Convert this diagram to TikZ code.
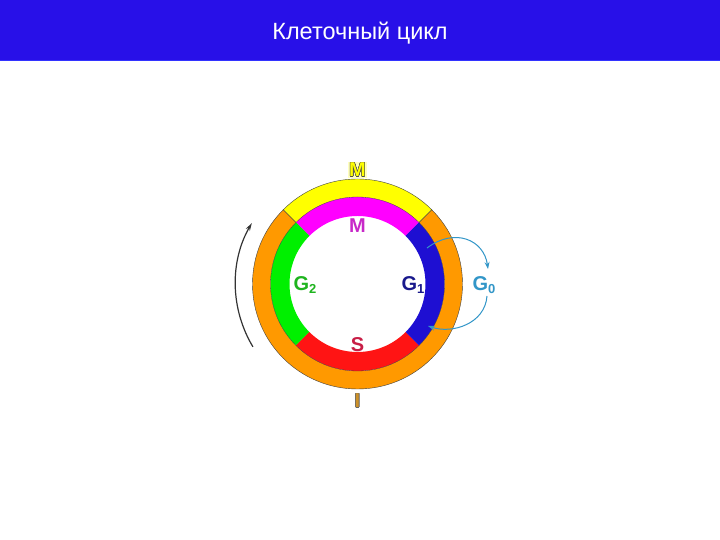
\documentclass[tikz,border=0pt]{standalone}
\usepackage{fontspec}
\setmainfont{Liberation Sans}
\usepackage{contour}
\contourlength{0.45pt}
\usetikzlibrary{arrows.meta}
\definecolor{banner}{RGB}{40,16,232}
\definecolor{cyel}{RGB}{255,255,0}
\definecolor{cmag}{RGB}{255,0,255}
\definecolor{cgrn}{RGB}{0,240,0}
\definecolor{cred}{RGB}{255,20,20}
\definecolor{cblu}{RGB}{30,15,210}
\definecolor{corg}{RGB}{255,153,0}
\definecolor{lmag}{RGB}{200,40,200}
\definecolor{lgrn}{RGB}{30,180,30}
\definecolor{lnav}{RGB}{25,25,140}
\definecolor{lcya}{RGB}{50,150,200}
\definecolor{lred}{RGB}{200,30,70}
\definecolor{lorg}{RGB}{205,145,40}
\newcommand\subsc[1]{\raisebox{-0.35ex}{\fontsize{13}{13}\selectfont #1}}
\tikzset{
  lbl/.style={font=\fontsize{20}{20}\selectfont\bfseries, inner sep=1pt},
  ringline/.style={draw=black!75, line width=0.4pt},
  cyarrow/.style={draw=lcya, line width=1pt, -{Stealth[length=7pt,width=5pt]}},
}
\begin{document}
\begin{tikzpicture}[x=1pt,y=1pt]
\useasboundingbox (0,0) rectangle (720,540);
\fill[white] (0,0) rectangle (720,540);
% banner
\fill[banner] (0,479) rectangle (720,540);
\draw[blue!80!white, line width=1pt] (0,479.5) -- (720,479.5);
\node[text=white, font=\fontsize{23.5}{24}\selectfont] (title) at (360,507) {Клеточный цикл};
% rings
\coordinate (c) at (357.5,256);
\def\R{105}\def\rm{87}\def\ri{68}
\begin{scope}[shift={(c)}]
  \fill[corg] (135:\R) arc[start angle=135,end angle=405,radius=\R] -- (45:\rm) arc[start angle=405,end angle=135,radius=\rm] -- cycle;
  \fill[cyel] (45:\R) arc[start angle=45,end angle=135,radius=\R] -- (135:\rm) arc[start angle=135,end angle=45,radius=\rm] -- cycle;
  \fill[cmag] (45:\rm) arc[start angle=45,end angle=135,radius=\rm] -- (135:\ri) arc[start angle=135,end angle=45,radius=\ri] -- cycle;
  \fill[cgrn] (135:\rm) arc[start angle=135,end angle=225,radius=\rm] -- (225:\ri) arc[start angle=225,end angle=135,radius=\ri] -- cycle;
  \fill[cred] (225:\rm) arc[start angle=225,end angle=315,radius=\rm] -- (315:\ri) arc[start angle=315,end angle=225,radius=\ri] -- cycle;
  \fill[cblu] (315:\rm) arc[start angle=315,end angle=405,radius=\rm] -- (45:\ri) arc[start angle=405,end angle=315,radius=\ri] -- cycle;
  \draw[ringline] (0,0) circle[radius=\R];
  \draw[ringline, line width=0.3pt] (0,0) circle[radius=\rm];
  \draw[ringline] (45:\rm) -- (45:\R);
  \draw[ringline] (135:\rm) -- (135:\R);
  % direction arrow
  \draw[black!80, line width=1.2pt, -{Stealth[length=8pt,width=4.5pt]}] (211:122) arc[start angle=211,end angle=150,radius=122];
\end{scope}
% G0 loop
\coordinate (g0s) at (427,292);
\coordinate (g0m) at (488,271);
\coordinate (g0n) at (487,244);
\coordinate (g0e) at (428,214);
\draw[cyarrow] (g0s) .. controls (455,313) and (484,300) .. (g0m);
\draw[cyarrow] (g0n) .. controls (485,216) and (452,206) .. (g0e);
% labels
\node[lbl, text=cyel, fill={rgb,255:red,255;green,255;blue,190}] (mtop) at (357.5,370) {\contour{black!70}{M}};
\node[lbl, text=lmag] (m) at (357.5,314) {M};
\node[lbl, text=lgrn] (g2) at (305,255) {G\subsc{2}};
\node[lbl, text=lnav] (g1) at (413,255) {G\subsc{1}};
\node[lbl, text=lcya] (g0) at (484,255) {G\subsc{0}};
\node[lbl, text=lred] (s) at (357.5,195) {S};
\node[lbl, text=lorg] (i) at (357.5,139) {\contour{black!60}{I}};
\end{tikzpicture}
\end{document}
